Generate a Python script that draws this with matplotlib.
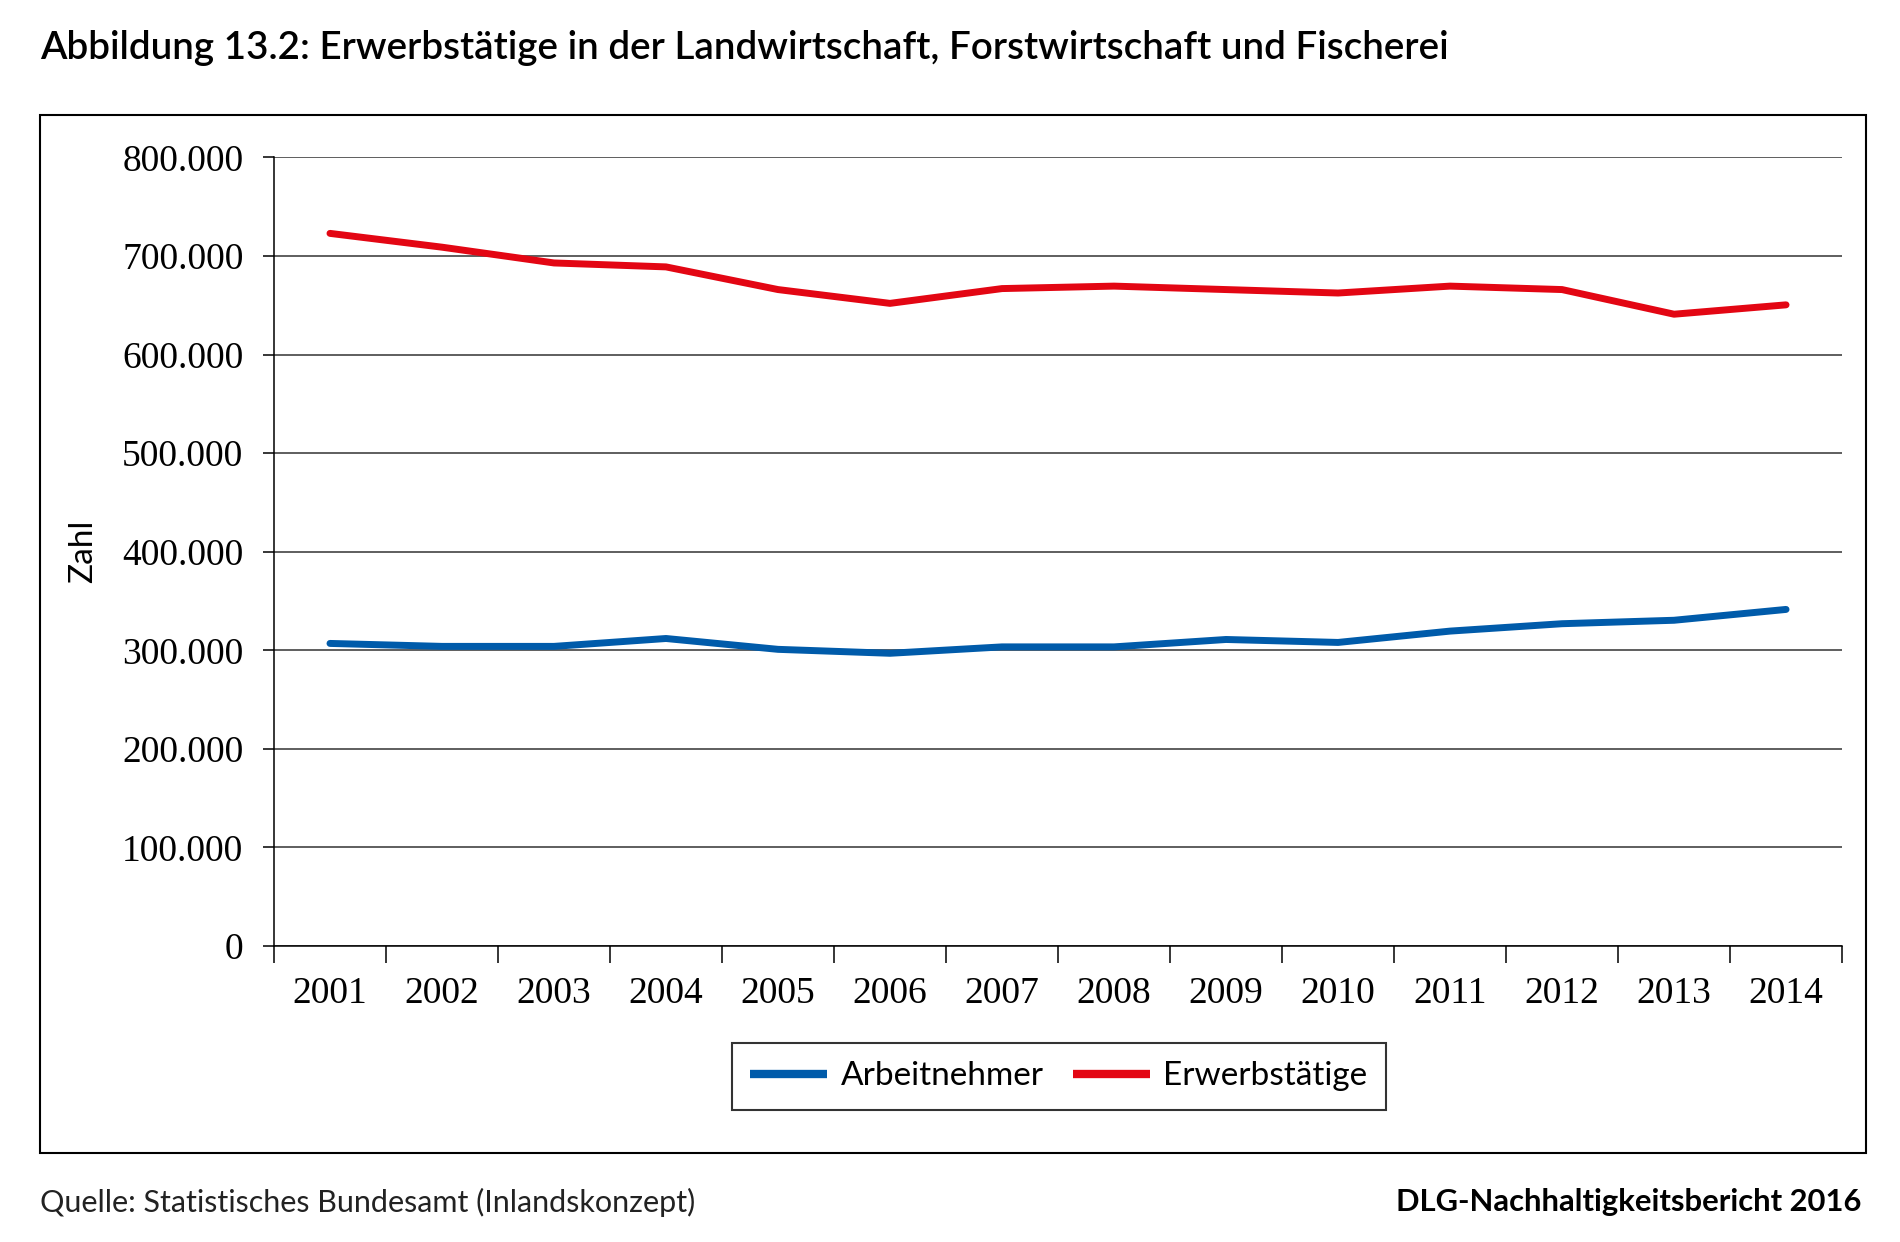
import matplotlib.pyplot as plt
from matplotlib.patches import Rectangle
from matplotlib.ticker import FuncFormatter

years = ['2001', '2002', '2003', '2004', '2005', '2006', '2007',
         '2008', '2009', '2010', '2011', '2012', '2013', '2014']
arbeitnehmer = [307000, 304000, 304000, 312000, 301000, 297000, 303500,
                303500, 311000, 308000, 319500, 327000, 330500, 341500]
erwerbstaetige = [723000, 709000, 693000, 689000, 666000, 652000, 667000,
                  669500, 666000, 662500, 669500, 666000, 641000, 650500]

blue = '#005BAA'
red = '#E30613'
serif = 'Liberation Serif'
sans = 'Lato'


def plot_chart():
  fig = plt.figure(figsize=(19, 12.42), dpi=100)
  ax = fig.add_axes([0.1442, 0.2383, 0.8253, 0.6349])

  x = list(range(len(years)))
  ax.plot(x, arbeitnehmer, color=blue, lw=5, label='Arbeitnehmer', solid_capstyle='round', zorder=3)
  ax.plot(x, erwerbstaetige, color=red, lw=5, label='Erwerbstätige', solid_capstyle='round', zorder=3)

  ax.set_xlim(-0.5, len(years) - 0.5)
  ax.set_ylim(0, 800000)
  ax.set_yticks(range(0, 800001, 100000))
  ax.yaxis.set_major_formatter(FuncFormatter(lambda v, p: f'{int(v):,}'.replace(',', '.')))
  ax.grid(axis='y', color='#333333', lw=1.1)
  ax.set_axisbelow(True)

  # category labels between tick marks
  ax.set_xticks([i - 0.5 for i in range(len(years) + 1)])
  ax.set_xticklabels([])
  ax.set_xticks(x, minor=True)
  ax.set_xticklabels(years, minor=True, fontsize=27, family=serif)
  ax.tick_params(axis='x', which='major', length=12, width=1.1, direction='out')
  ax.tick_params(axis='x', which='minor', length=0, pad=22)
  ax.tick_params(axis='y', length=8, width=1.1, pad=14, labelsize=27)
  for lbl in ax.get_yticklabels():
    lbl.set_family(serif)

  for s in ['top', 'right']:
    ax.spines[s].set_visible(False)
  ax.spines['left'].set_linewidth(1.1)
  ax.spines['bottom'].set_linewidth(1.1)

  ax.set_ylabel('Zahl', fontsize=24, family=sans, labelpad=17)

  leg = fig.legend(loc='center', bbox_to_anchor=(0.5574, 0.1333), ncol=2, frameon=True,
                   fancybox=False, edgecolor='black', handlelength=2.3, columnspacing=0.9,
                   handletextpad=0.4, borderpad=0.55, prop={'family': sans, 'size': 24})
  leg.get_frame().set_linewidth(1.5)
  for h in leg.get_lines():
    h.set_linewidth(6)
    h.set_solid_capstyle('butt')

  fig.add_artist(Rectangle((40 / 1900, 1 - 1153 / 1242), 1826 / 1900, 1038 / 1242,
                           transform=fig.transFigure, fill=False, edgecolor='black', lw=1.5))

  fig.text(40 / 1900, 1 - 48 / 1242, 'Abbildung 13.2: Erwerbstätige in der Landwirtschaft, Forstwirtschaft und Fischerei',
           fontsize=27.8, family=sans, weight='semibold', va='center', ha='left')
  fig.text(40 / 1900, 1 - 1202 / 1242, 'Quelle: Statistisches Bundesamt (Inlandskonzept)',
           fontsize=22, family=sans, weight='normal', va='center', ha='left', color='#222222')
  fig.text(1861 / 1900, 1 - 1202 / 1242, 'DLG-Nachhaltigkeitsbericht 2016',
           fontsize=22.3, family=sans, weight='bold', va='center', ha='right')

  fig.savefig('out.png', dpi=100)


if __name__ == "__main__":
  plot_chart()
